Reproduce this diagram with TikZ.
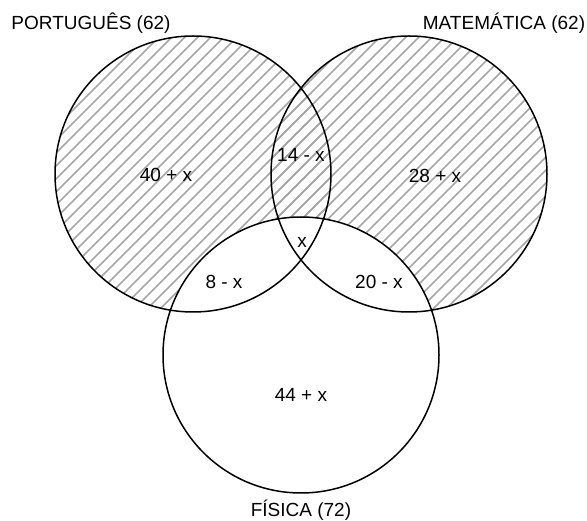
\documentclass[tikz,border=0pt]{standalone}
\usepackage{fontspec}
\setmainfont{Liberation Sans}
\usetikzlibrary{positioning}

\tikzset{
  conj/.style={draw, circle, line width=1.5pt, minimum size=276pt, inner sep=0pt},
  hatch/.style={draw=gray!70, line width=1.6pt},
  rot/.style={font=\fontsize{19}{21}\selectfont, inner sep=1pt}
}

\begin{document}
\begin{tikzpicture}[x=1pt,y=-1pt]
    \useasboundingbox (0,0) rectangle (587,521);
    % hatched area: (P u M) minus F
    \foreach \c in {193,409} {
      \begin{scope}
        \clip (\c,174) circle (138pt);
        \foreach \k in {-559,-546,...,600}
          \draw[hatch] (\k,521) -- ++(521,-521);
      \end{scope}
    }
    \fill[white] (301,355) circle (138pt);
    \node[conj] (port) at (193,174) {};
    \node[conj] (mat) at (409,174) {};
    \node[conj] (fis) at (301,355) {};
    \node[rot] (lport) at (91,23) {PORTUGUÊS (62)};
    \node[rot] (lmat) at (504,23) {MATEMÁTICA (62)};
    \node[rot] (lfis) at (301,510) {FÍSICA (72)};
    \node[rot] (a) at (166,175) {40 + x};
    \node[rot] (b) at (301,155) {14 - x};
    \node[rot] (c) at (435,176) {28 + x};
    \node[rot] (d) at (302,242) {x};
    \node[rot] (e) at (224,282) {8 - x};
    \node[rot] (f) at (379,282) {20 - x};
    \node[rot] (g) at (301,395) {44 + x};
  \end{tikzpicture}
\end{document}
